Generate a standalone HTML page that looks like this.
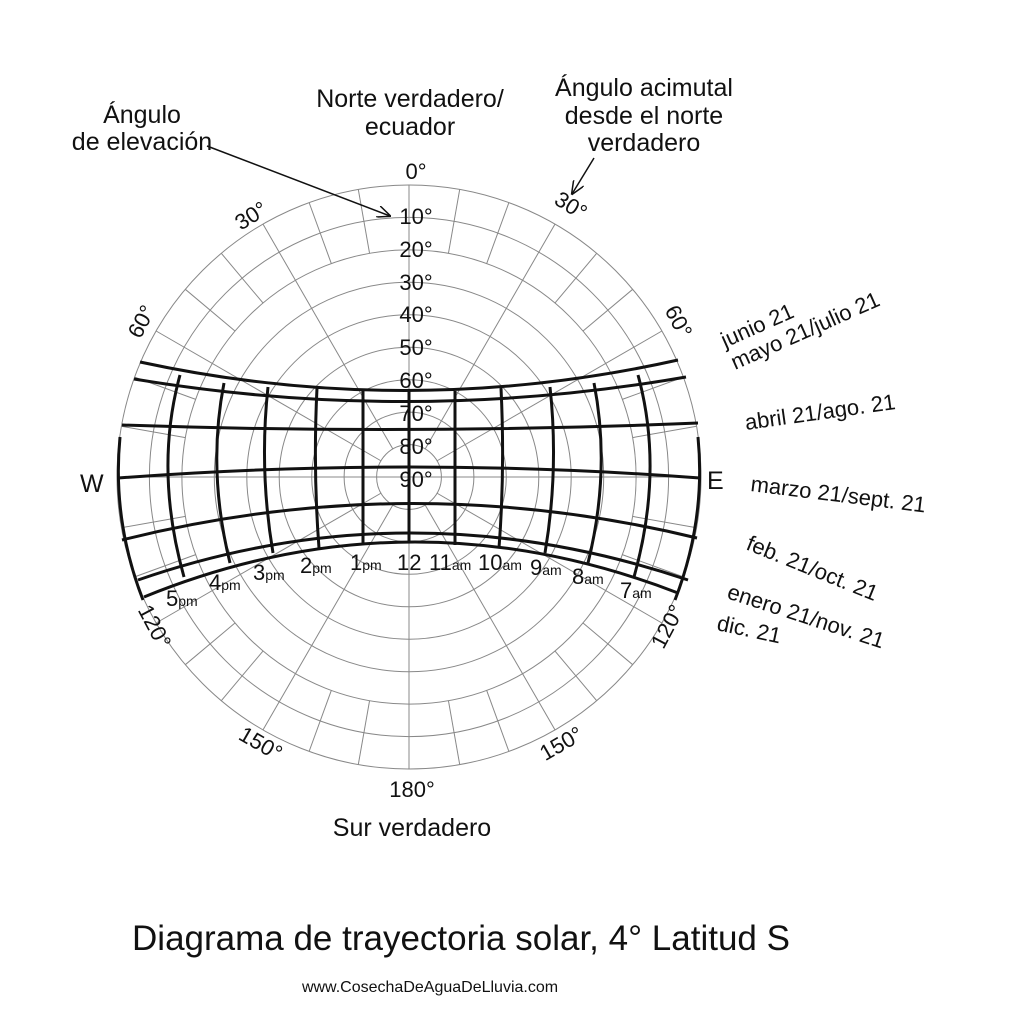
<!DOCTYPE html>
<html><head><meta charset="utf-8"><style>
html,body{margin:0;padding:0;background:#fff;}
svg{display:block;}
text{font-family:"Liberation Sans",sans-serif;fill:#111;}
</style></head><body>
<svg width="1014" height="1024" viewBox="0 0 1014 1024" xmlns="http://www.w3.org/2000/svg">
<defs><marker id="ah" markerWidth="14" markerHeight="12" refX="13" refY="6" orient="auto" markerUnits="userSpaceOnUse"><path d="M0,0 L14,6 L0,12" fill="none" stroke="#111" stroke-width="1.5"/></marker></defs>
<g fill="none" stroke="#888" stroke-width="1">
<circle cx="409" cy="477" r="292"/>
<circle cx="409" cy="477" r="259.6"/>
<circle cx="409" cy="477" r="227.1"/>
<circle cx="409" cy="477" r="194.7"/>
<circle cx="409" cy="477" r="162.2"/>
<circle cx="409" cy="477" r="129.8"/>
<circle cx="409" cy="477" r="97.3"/>
<circle cx="409" cy="477" r="64.9"/>
<circle cx="409" cy="477" r="32.4"/>
<line x1="409" y1="185" x2="409" y2="769"/>
<line x1="117" y1="477" x2="701" y2="477"/>
<g id="sp">
<line x1="409" y1="185" x2="409" y2="250" transform="rotate(10 409 477)"/>
<line x1="409" y1="185" x2="409" y2="250" transform="rotate(20 409 477)"/>
<line x1="409" y1="185" x2="409" y2="445" transform="rotate(30 409 477)"/>
<line x1="409" y1="185" x2="409" y2="250" transform="rotate(40 409 477)"/>
<line x1="409" y1="185" x2="409" y2="250" transform="rotate(50 409 477)"/>
<line x1="409" y1="185" x2="409" y2="445" transform="rotate(60 409 477)"/>
<line x1="409" y1="185" x2="409" y2="250" transform="rotate(70 409 477)"/>
<line x1="409" y1="185" x2="409" y2="250" transform="rotate(80 409 477)"/>
<line x1="409" y1="185" x2="409" y2="250" transform="rotate(100 409 477)"/>
<line x1="409" y1="185" x2="409" y2="250" transform="rotate(110 409 477)"/>
<line x1="409" y1="185" x2="409" y2="445" transform="rotate(120 409 477)"/>
<line x1="409" y1="185" x2="409" y2="250" transform="rotate(130 409 477)"/>
<line x1="409" y1="185" x2="409" y2="250" transform="rotate(140 409 477)"/>
<line x1="409" y1="185" x2="409" y2="445" transform="rotate(150 409 477)"/>
<line x1="409" y1="185" x2="409" y2="250" transform="rotate(160 409 477)"/>
<line x1="409" y1="185" x2="409" y2="250" transform="rotate(170 409 477)"/>
</g>
<use href="#sp" transform="matrix(-1 0 0 1 818 0)"/>
</g>
<g fill="none" stroke="#111" stroke-width="3">
<path d="M140,362 Q409,420 678,360"/>
<path d="M134,379 Q409,425 686,377"/>
<path d="M122,425 Q409,435 698,423"/>
<path d="M118,478 Q409,456 700,478"/>
<path d="M122,540 Q409,468 697,538"/>
<path d="M138,580 Q409,486 688,580"/>
<path d="M144,597 Q409,489 678,593"/>
<line x1="409" y1="391" x2="409" y2="543"/>
<line x1="363" y1="391" x2="363" y2="545"/>
<line x1="455" y1="391" x2="455" y2="545"/>
<path d="M317,388 Q313,470 319,548"/>
<path d="M501,388 Q505,470 499,548"/>
<path d="M268,387 Q259,470 273,553"/>
<path d="M550,387 Q559,470 545,553"/>
<path d="M224,383 Q207,470 230,563"/>
<path d="M594,383 Q611,470 588,563"/>
<path d="M180,375 Q154,470 184,577"/>
<path d="M638,375 Q664,470 634,577"/>
<path d="M120,437 Q112,520 143,600"/>
<path d="M698,437 Q706,520 675,600"/>
</g>
<g font-size="22" text-anchor="middle">
<text x="416" y="179">0°</text>
<text x="416" y="224">10°</text>
<text x="416" y="257">20°</text>
<text x="416" y="290">30°</text>
<text x="416" y="322">40°</text>
<text x="416" y="355">50°</text>
<text x="416" y="388">60°</text>
<text x="416" y="421">70°</text>
<text x="416" y="454">80°</text>
<text x="416" y="487">90°</text>
<text x="412" y="797">180°</text>
<text transform="translate(255,222) rotate(-32)">30°</text>
<text transform="translate(567,212) rotate(32)">30°</text>
<text transform="translate(148,325) rotate(-62)">60°</text>
<text transform="translate(672,325) rotate(62)">60°</text>
<text transform="translate(148,630) rotate(62)">120°</text>
<text transform="translate(674,630) rotate(-62)">120°</text>
<text transform="translate(257,750) rotate(30)">150°</text>
<text transform="translate(565,750) rotate(-30)">150°</text>
</g>
<g font-size="25">
<text x="80" y="492">W</text>
<text x="707" y="489">E</text>
</g>
<g font-size="22">
<text x="397" y="570">12</text>
<text x="350" y="570">1<tspan font-size="14">pm</tspan></text>
<text x="300" y="573">2<tspan font-size="14">pm</tspan></text>
<text x="253" y="580">3<tspan font-size="14">pm</tspan></text>
<text x="209" y="590">4<tspan font-size="14">pm</tspan></text>
<text x="166" y="606">5<tspan font-size="14">pm</tspan></text>
<text x="429" y="570">11<tspan font-size="14">am</tspan></text>
<text x="478" y="570">10<tspan font-size="14">am</tspan></text>
<text x="530" y="575">9<tspan font-size="14">am</tspan></text>
<text x="572" y="584">8<tspan font-size="14">am</tspan></text>
<text x="620" y="598">7<tspan font-size="14">am</tspan></text>
</g>
<g font-size="25">
<text x="410" y="107" text-anchor="middle">Norte verdadero/</text>
<text x="410" y="135" text-anchor="middle">ecuador</text>
<text x="142" y="123" text-anchor="middle">Ángulo</text>
<text x="142" y="150" text-anchor="middle">de elevación</text>
<text x="644" y="96" text-anchor="middle">Ángulo acimutal</text>
<text x="644" y="124" text-anchor="middle">desde el norte</text>
<text x="644" y="151" text-anchor="middle">verdadero</text>
<text x="412" y="836" text-anchor="middle">Sur verdadero</text>
</g>
<g fill="none" stroke="#111" stroke-width="1.5">
<line x1="207" y1="146" x2="390" y2="216" marker-end="url(#ah)"/>
<line x1="594" y1="158" x2="572" y2="194" marker-end="url(#ah)"/>
</g>
<g font-size="22">
<text transform="translate(725,348) rotate(-24)">junio 21</text>
<text transform="translate(735,370) rotate(-24)">mayo 21/julio 21</text>
<text transform="translate(746,430) rotate(-8)">abril 21/ago. 21</text>
<text transform="translate(750,491) rotate(7)">marzo 21/sept. 21</text>
<text transform="translate(745,549) rotate(22)">feb. 21/oct. 21</text>
<text transform="translate(726,598) rotate(18)">enero 21/nov. 21</text>
<text transform="translate(716,630) rotate(12)">dic. 21</text>
</g>
<text x="461" y="950" font-size="35" text-anchor="middle">Diagrama de trayectoria solar, 4° Latitud S</text>
<text x="430" y="992" font-size="16" text-anchor="middle">www.CosechaDeAguaDeLluvia.com</text>
</svg>
</body></html>
